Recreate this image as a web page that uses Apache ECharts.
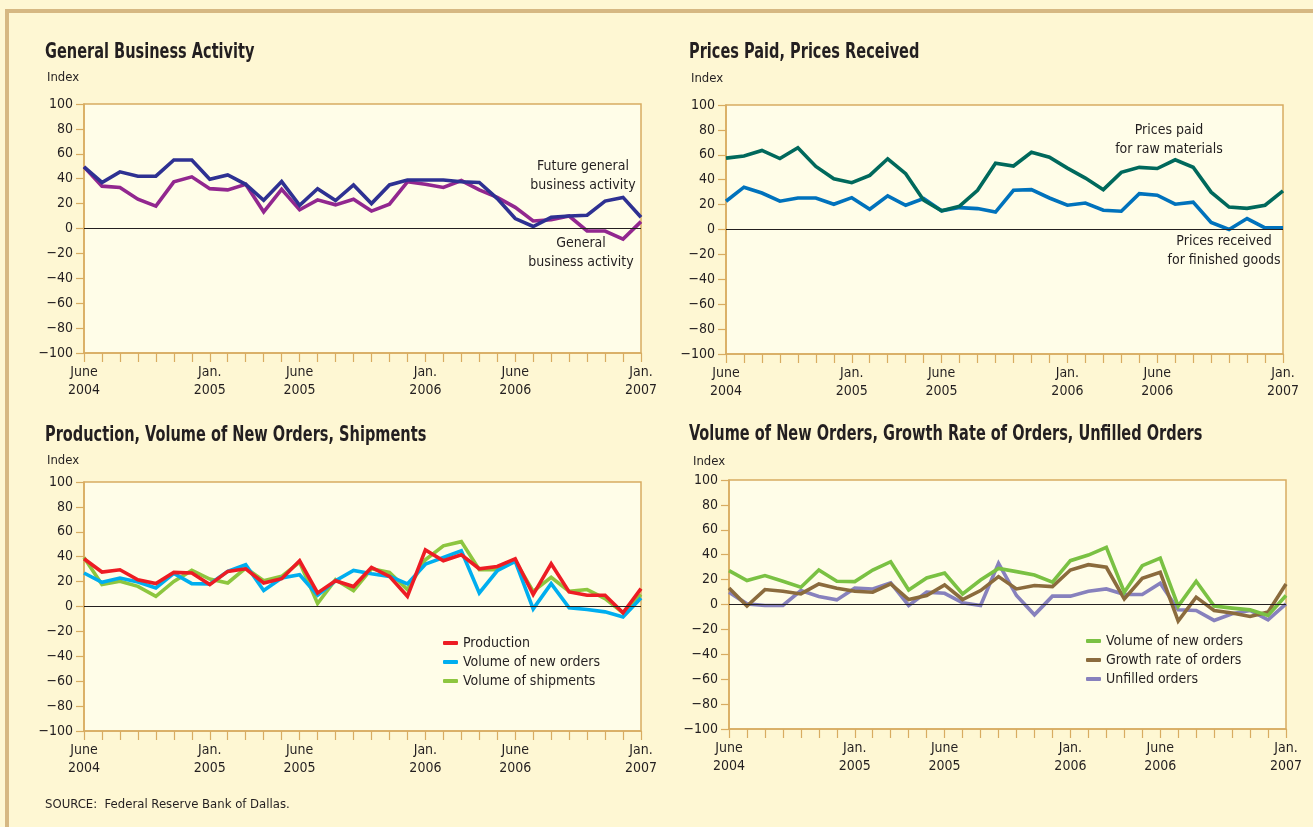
<!DOCTYPE html>
<html>
<head>
<meta charset="utf-8">
<script src="https://cdn.jsdelivr.net/npm/echarts@6/dist/echarts.min.js"></script>
<style>
html,body{margin:0;padding:0;background:#FEF7D3;}
#chart{width:1313px;height:827px;}
</style>
</head>
<body>
<div id="chart"></div>
<script>
// ---- categories (months) ----
var months = ['2004-06','2004-07','2004-08','2004-09','2004-10','2004-11','2004-12',
  '2005-01','2005-02','2005-03','2005-04','2005-05','2005-06','2005-07','2005-08','2005-09','2005-10','2005-11','2005-12',
  '2006-01','2006-02','2006-03','2006-04','2006-05','2006-06','2006-07','2006-08','2006-09','2006-10','2006-11','2006-12',
  '2007-01'];
var tickLabels = {'2004-06':'June\n2004','2005-01':'Jan.\n2005','2005-06':'June\n2005',
  '2006-01':'Jan.\n2006','2006-06':'June\n2006','2007-01':'Jan.\n2007'};
var yMin = -100, yMax = 100, yStep = 20;

// ---- panel 1: General Business Activity ----
var futureActivity = [49.5,37,45.5,42,42,55,55,39.5,43,35.5,22.7,37.7,18.7,32,22.5,35,20,35,39,39,39,37.5,37,24,8,1.6,9,10,10.7,22,25,9];
var generalActivity = [49.5,34,33,23.5,18,37.5,41.5,32,31,35.5,13.4,31.5,15,23,19,23.5,14,19.5,37.5,35.5,33,38.5,31,25,17,6,7,10,-2,-2,-8.5,5.5];

// ---- panel 2: Prices Paid, Prices Received ----
var pricesPaid = [57.3,59,63.5,57,65.6,50.7,40.8,37.6,43.5,56.8,44.8,23.5,15,18.7,31.5,53.3,51,62,58,49.3,41.3,32,45.9,49.9,49,56,50,30,18,17,19.5,31];
var pricesReceived = [22.7,34,29.3,22.7,25.3,25.3,20.3,25.6,16.3,27,19.5,24.8,15,17.6,16.8,14,31.5,32,25.3,19.5,21.3,15.5,14.7,28.8,27.5,20.3,22,5.6,0,8.8,1.3,1.3];

// ---- panel 3: Production, Volume of New Orders, Shipments ----
var production = [38.3,27.7,29.5,21.5,18.4,27.4,26.9,17.6,28.2,30.3,18.9,22.3,36.7,10.9,20.7,16,31.4,24.2,8.2,45.5,36.7,41.5,30.3,32.2,38.3,9.6,34.3,11.7,9,9,-5,14.4];
var newOrdersA = [26.9,19.4,22.9,19.7,14.9,26.6,18.4,18.1,28.2,33.5,12.8,22.9,25.5,9,20.7,29,26.3,24.2,18.1,34,39.4,44.7,10.9,28.7,36.2,-1.9,18.4,-1,-2.4,-4.3,-8.5,6.9];
var shipments = [39.4,17.6,20.2,16.2,8.2,20.2,29,22,18.9,30.9,20.7,24.2,35.6,2.4,21.5,12.8,30.3,27.4,13.6,37.5,48.7,52.1,29.5,29.5,36.7,12.2,23.4,12.2,13.6,6.4,-5,9.6];

// ---- panel 4: Volume of New Orders, Growth Rate of Orders, Unfilled Orders ----
var newOrdersB = [27.2,19.2,23.2,18.7,13.9,27.7,18.7,18.4,27.7,34.4,11.7,21.3,25.3,8.5,19.7,29,26.4,23.7,17.9,35.2,39.7,45.9,9.9,31.2,37.3,-1.3,18.7,-1.3,-2.9,-4.3,-8.8,7.2];
var growthRate = [13.3,-1.3,12,10.7,8.5,16.5,13.1,10.7,9.9,16.5,4,7.2,15.7,4,11.2,22.4,12.5,15.2,14.4,27.7,32,29.9,4.5,21.1,25.9,-13.3,5.9,-4.8,-6.9,-9.6,-6.1,16.5];
var unfilled = [9.9,0.5,-0.8,-0.8,11.2,6.4,3.7,13.1,12.5,17.3,-0.8,9.9,9,1.3,-0.8,33,7.2,-8.3,6.7,6.7,10.7,12.5,8,8,17.1,-4.3,-4.8,-12.8,-7.5,-4.8,-12.3,0.5];

// ---- text ----
var panelTitles = ['General Business Activity', 'Prices Paid, Prices Received',
  'Production, Volume of New Orders, Shipments',
  'Volume of New Orders, Growth Rate of Orders, Unfilled Orders'];

var FONT = '"DejaVu Sans Condensed","Liberation Sans Narrow",sans-serif';
var TAN = '#D8AC61';
var TXT = '#231F20';

var grids = [
  {left:84, top:104, width:557, height:249},
  {left:726, top:105, width:557, height:249},
  {left:84, top:482, width:557, height:249},
  {left:729, top:480, width:557, height:249}
];
var titlePos = [[45,53],[689,53],[45,436],[689,435]];
var indexPos = [[47,78],[691,79],[47,461],[693,462]];

function mkX(i){
  return {
    type:'category', gridIndex:i, data:months, boundaryGap:false,
    axisLine:{show:true, onZero:false, lineStyle:{color:TAN, width:1.5}},
    axisTick:{show:true, interval:0, length:9, inside:false, lineStyle:{color:TAN, width:1.2}},
    axisLabel:{
      interval:function(idx, val){ return tickLabels.hasOwnProperty(val); },
      formatter:function(val){ return tickLabels[val] || ''; },
      fontFamily:FONT, fontSize:14, color:TXT, lineHeight:18, margin:10
    },
    splitLine:{show:false}
  };
}
function mkY(i){
  return {
    type:'value', gridIndex:i, min:yMin, max:yMax, interval:yStep,
    axisLine:{show:true, lineStyle:{color:TAN, width:1.5}},
    axisTick:{show:true, length:8, lineStyle:{color:TAN, width:1.2}},
    axisLabel:{fontFamily:FONT, fontSize:14, color:TXT, margin:11,
      formatter:function(v){ return String(v).replace('-', '\u2212'); }},
    splitLine:{show:false}
  };
}
function line(name, data, color, gi, withZero){
  var s = {
    name:name, type:'line', xAxisIndex:gi, yAxisIndex:gi, data:data,
    symbol:'none', smooth:false,
    lineStyle:{color:color, width:3.6, join:'miter'},
    itemStyle:{color:color}, color:color, silent:true, animation:false
  };
  if (withZero){
    s.markLine = {silent:true, symbol:'none', label:{show:false},
      lineStyle:{color:TXT, width:1.2, type:'solid'}, data:[{yAxis:0}]};
  }
  return s;
}
function legendStyle(left, top, names){
  return {data:names, left:left, top:top, orient:'vertical', itemGap:3,
    itemWidth:15, itemHeight:4, icon:'roundRect', selectedMode:false,
    textStyle:{fontFamily:FONT, fontSize:14, color:TXT, lineHeight:16}};
}
var annStyle = {fontFamily:FONT, fontSize:14, fill:TXT, lineHeight:19, textAlign:'center', textVerticalAlign:'middle'};

var graphics = [
  {type:'rect', shape:{x:7, y:11, width:1400, height:900}, style:{fill:null, stroke:'#D6B883', lineWidth:4}, silent:true, z:-1},
  {type:'text', x:583, y:176, style:Object.assign({text:'Future general\nbusiness activity'}, annStyle)},
  {type:'text', x:581, y:253, style:Object.assign({text:'General\nbusiness activity'}, annStyle)},
  {type:'text', x:1169, y:140, style:Object.assign({text:'Prices paid\nfor raw materials'}, annStyle)},
  {type:'text', x:1224, y:251, style:Object.assign({text:'Prices received\nfor finished goods'}, annStyle)},
  {type:'text', x:45, y:805, style:{text:'SOURCE:  Federal Reserve Bank of Dallas.', fontFamily:FONT, fontSize:13, fill:TXT, textVerticalAlign:'middle'}}
];
panelTitles.forEach(function(t, i){
  graphics.push({type:'text', x:titlePos[i][0], y:titlePos[i][1], scaleX:0.77, scaleY:1,
    style:{text:t, fontFamily:FONT, fontSize:21, fontWeight:'bold', fill:TXT, textVerticalAlign:'middle'}});
  graphics.push({type:'text', x:indexPos[i][0], y:indexPos[i][1],
    style:{text:'Index', fontFamily:FONT, fontSize:13, fill:TXT, textVerticalAlign:'middle'}});
});

var chart = echarts.init(document.getElementById('chart'), null, {renderer:'canvas'});
chart.setOption({
  backgroundColor:'#FEF7D3',
  animation:false,
  grid: grids.map(function(g){ return Object.assign({show:true, backgroundColor:'#FFFDE8', borderColor:TAN, borderWidth:1.5}, g); }),
  xAxis:[mkX(0), mkX(1), mkX(2), mkX(3)],
  yAxis:[mkY(0), mkY(1), mkY(2), mkY(3)],
  legend:[
    legendStyle(438, 630, ['Production','Volume of new orders','Volume of shipments']),
    legendStyle(1081, 628, ['Volume of new orders ','Growth rate of orders','Unfilled orders'])
  ],
  series:[
    line('General business activity', generalActivity, '#92278F', 0, true),
    line('Future general business activity', futureActivity, '#2E3192', 0, false),
    line('Prices received for finished goods', pricesReceived, '#0072BC', 1, true),
    line('Prices paid for raw materials', pricesPaid, '#00695C', 1, false),
    line('Volume of shipments', shipments, '#8DC63F', 2, true),
    line('Volume of new orders', newOrdersA, '#00AEEF', 2, false),
    line('Production', production, '#ED1C24', 2, false),
    line('Unfilled orders', unfilled, '#8781BD', 3, true),
    line('Growth rate of orders', growthRate, '#8B6B3D', 3, false),
    line('Volume of new orders ', newOrdersB, '#7AC143', 3, false)
  ],
  graphic:graphics
});
</script>
</body>
</html>
